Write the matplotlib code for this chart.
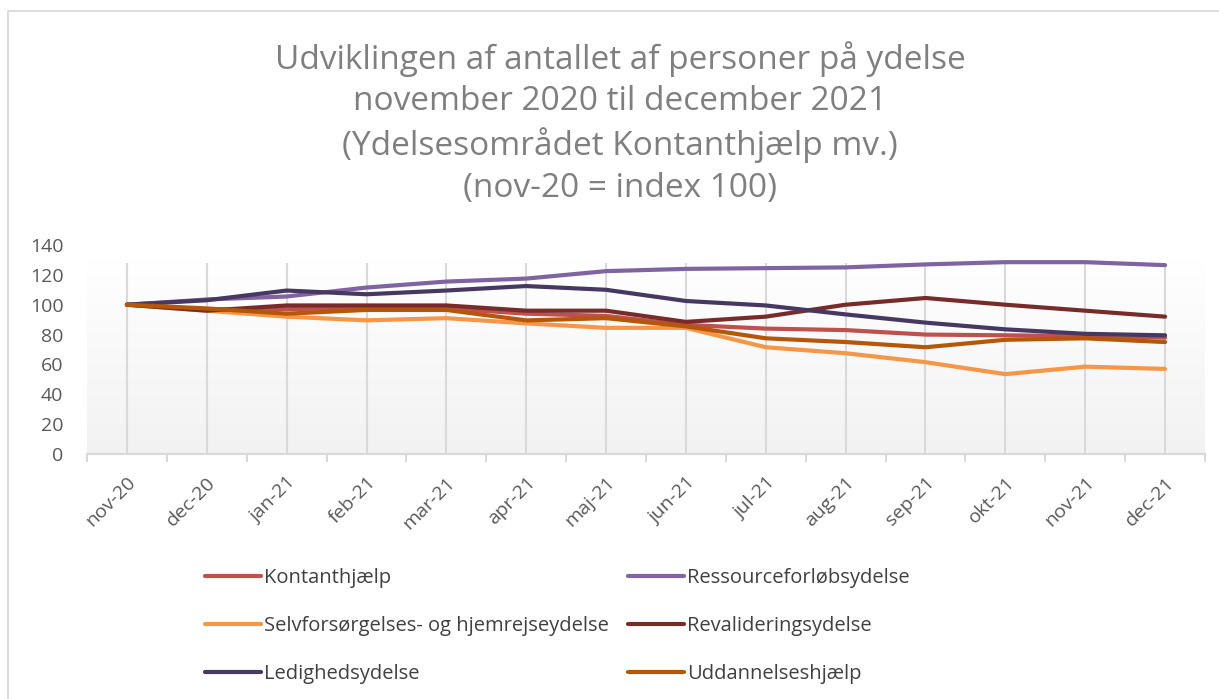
import numpy as np
import matplotlib
matplotlib.use('Agg')
import matplotlib.pyplot as plt
from matplotlib.lines import Line2D
from matplotlib.patches import Rectangle
from matplotlib.colors import LinearSegmentedColormap

plt.rcParams['font.family'] = ['Open Sans', 'DejaVu Sans']

# data (nov-20 = index 100)
months = ['nov-20', 'dec-20', 'jan-21', 'feb-21', 'mar-21', 'apr-21', 'maj-21',
          'jun-21', 'jul-21', 'aug-21', 'sep-21', 'okt-21', 'nov-21', 'dec-21']
kontanthjaelp = [100, 97, 97, 98, 97.5, 94, 92.5, 86.5, 84, 83, 80, 79.5, 79, 78]
ressource = [100, 103.5, 105.5, 111.5, 115.5, 117.5, 122.5, 124, 124.5, 125, 127, 128.5, 128.5, 126.5]
selvforsorgelse = [100, 96, 92, 89.5, 91, 87.5, 84.5, 84.5, 71.5, 67.5, 61.5, 53.5, 58.5, 57]
revalidering = [100, 96, 99.5, 99.5, 99.5, 96, 96, 88.5, 92, 100, 104.5, 100, 96, 92]
ledighed = [100, 103, 109.5, 107, 109.5, 112.5, 110, 102.5, 99.5, 93.5, 88, 83.5, 80.5, 79.5]
uddannelse = [100, 97.5, 94, 96.5, 96.5, 89.5, 91, 85.5, 77.5, 75, 71.5, 76.5, 77.5, 75]

series = [
    ('Kontanthjælp', kontanthjaelp, '#c0504d'),
    ('Ressourceforløbsydelse', ressource, '#8064a2'),
    ('Selvforsørgelses- og hjemrejseydelse', selvforsorgelse, '#f79646'),
    ('Revalideringsydelse', revalidering, '#772c2a'),
    ('Ledighedsydelse', ledighed, '#463861'),
    ('Uddannelseshjælp', uddannelse, '#b65708'),
]

W, H = 1219, 699
fig = plt.figure(figsize=(W / 100, H / 100), dpi=100)
ax = fig.add_axes([87 / W, 1 - 454 / H, (1205 - 87) / W, (454 - 245) / H])
x = np.arange(len(months))

# plot area gradient + vertical gridlines
grad = np.linspace(0, 1, 256).reshape(-1, 1)
cmap = LinearSegmentedColormap.from_list('bg', ['#f2f2f2', '#ffffff'])
ax.imshow(grad, extent=(-0.5, len(months) - 0.5, 0, 130), origin='lower',
          aspect='auto', cmap=cmap, zorder=0)
ax.vlines(x, 0, 128, color='#d9d9d9', lw=1.5, zorder=1)

handles = {}
for name, vals, col in series:
    ax.plot(x, vals, color=col, lw=3, solid_joinstyle='round',
            solid_capstyle='round', zorder=3)
    handles[name] = Line2D([], [], color=col, lw=3, solid_capstyle='round')

ax.set_xlim(-0.5, len(months) - 0.5)
ax.set_ylim(0, 140)
for s in ['top', 'right', 'left']:
    ax.spines[s].set_visible(False)
ax.spines['bottom'].set_color('#d9d9d9')
ax.spines['bottom'].set_linewidth(1.5)

ax.set_yticks(range(0, 141, 20))
ax.tick_params(axis='y', length=0, pad=17, labelsize=14, labelcolor='#595959')
ax.set_xticks(x)
ax.set_xticklabels(months, rotation=45, ha='right', rotation_mode='anchor')
ax.set_xticks(np.arange(-0.5, len(months), 1), minor=True)
ax.tick_params(axis='x', which='major', length=0, pad=14, labelsize=14, labelcolor='#595959')
ax.tick_params(axis='x', which='minor', length=6, width=1.5, color='#d9d9d9')

# title
fig.text(620 / W, 1 - 123 / H,
         'Udviklingen af antallet af personer på ydelse\n'
         'november 2020 til december 2021\n'
         '(Ydelsesområdet Kontanthjælp mv.)\n'
         '(nov-20 = index 100)',
         ha='center', va='center', fontsize=24, color='#7f7f7f', linespacing=1.33)

# legend in two columns
left_names = ['Kontanthjælp', 'Selvforsørgelses- og hjemrejseydelse', 'Ledighedsydelse']
right_names = ['Ressourceforløbsydelse', 'Revalideringsydelse', 'Uddannelseshjælp']
leg_kw = dict(loc='upper left', frameon=False, fontsize=14.5, handlelength=2.8,
              handletextpad=0.12, labelspacing=1.4, borderpad=0, borderaxespad=0,
              labelcolor='#404040', bbox_transform=fig.transFigure)
leg1 = fig.legend([handles[n] for n in left_names], left_names,
                  bbox_to_anchor=(205 / W, 1 - 568 / H), **leg_kw)
leg2 = fig.legend([handles[n] for n in right_names], right_names,
                  bbox_to_anchor=(628 / W, 1 - 568 / H), **leg_kw)

# chart border
fig.patches.append(Rectangle((8 / W, -0.01), 1.0, 1.01 - 11 / H, transform=fig.transFigure,
                             fill=False, edgecolor='#d9d9d9', lw=1.3))

plt.savefig('out.png', dpi=100)
